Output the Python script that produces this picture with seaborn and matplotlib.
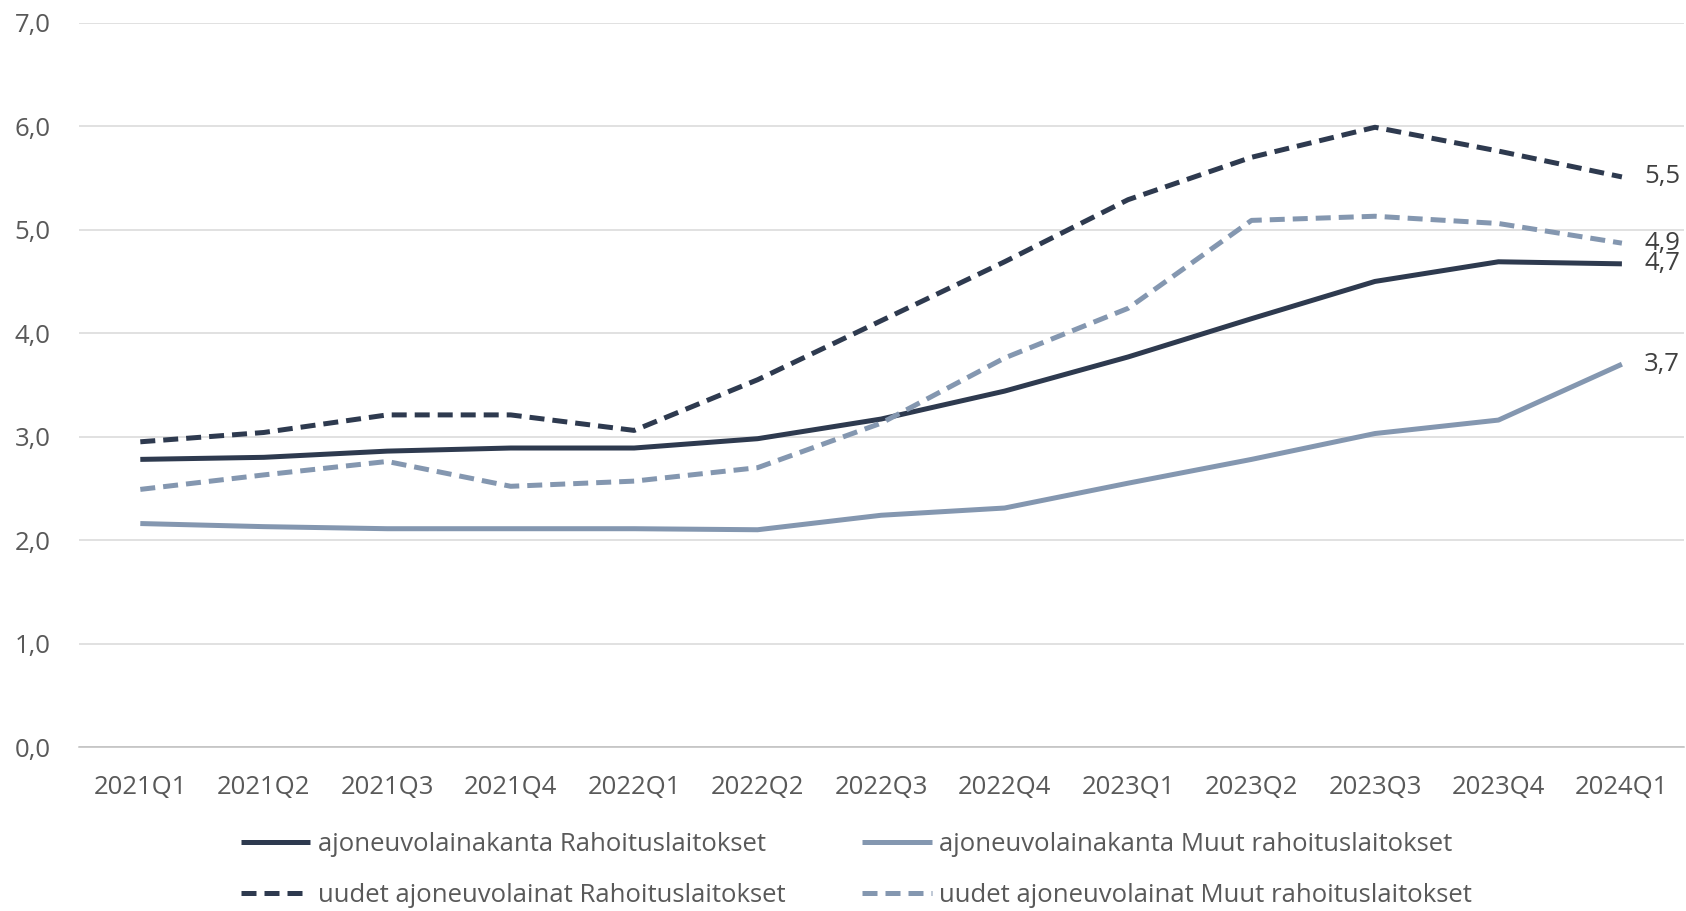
import pandas as pd
import matplotlib
matplotlib.use("Agg")
import matplotlib.pyplot as plt
from matplotlib.ticker import FixedLocator
import seaborn as sns

# Quarters on the x axis
quarters = ['2021Q1', '2021Q2', '2021Q3', '2021Q4', '2022Q1', '2022Q2', '2022Q3',
            '2022Q4', '2023Q1', '2023Q2', '2023Q3', '2023Q4', '2024Q1']

# Series values
kanta_rahoitus = [2.78, 2.80, 2.86, 2.89, 2.89, 2.98, 3.17, 3.44, 3.77, 4.14, 4.50, 4.69, 4.67]
kanta_muut = [2.16, 2.13, 2.11, 2.11, 2.11, 2.10, 2.24, 2.31, 2.55, 2.78, 3.03, 3.16, 3.70]
uudet_rahoitus = [2.95, 3.04, 3.21, 3.21, 3.06, 3.55, 4.12, 4.69, 5.29, 5.70, 5.99, 5.76, 5.51]
uudet_muut = [2.49, 2.63, 2.76, 2.52, 2.57, 2.70, 3.13, 3.76, 4.24, 5.09, 5.13, 5.06, 4.87]

names = ['ajoneuvolainakanta Rahoituslaitokset',
         'ajoneuvolainakanta Muut rahoituslaitokset',
         'uudet ajoneuvolainat Rahoituslaitokset',
         'uudet ajoneuvolainat Muut rahoituslaitokset']
series = [kanta_rahoitus, kanta_muut, uudet_rahoitus, uudet_muut]

dark = '#2e3a4f'
light = '#8497b0'
palette = {names[0]: dark, names[1]: light, names[2]: dark, names[3]: light}
dashes = {names[0]: '', names[1]: '', names[2]: (3, 1.6), names[3]: (3, 1.6)}

rows = []
for name, vals in zip(names, series):
    for i, v in enumerate(vals):
        rows.append({'idx': i, 'value': v, 'series': name})
df = pd.DataFrame(rows)

sns.set_theme(style='white')
plt.rcParams['font.family'] = ['Open Sans', 'DejaVu Sans']
text_color = '#595959'
fs = 18.5

fig = plt.figure(figsize=(16.86, 9.11), dpi=100)
ax = fig.add_axes([0.0466, 0.180, 0.952, 0.795])

sns.lineplot(data=df, x='idx', y='value', hue='series', style='series',
             palette=palette, dashes=dashes, hue_order=names, style_order=names,
             linewidth=3.6, legend=False, ax=ax)

for line in ax.get_lines():
    line.set_solid_capstyle('butt')
    line.set_dash_capstyle('butt')

# End labels
for vals in series:
    last = vals[-1]
    ax.annotate(f'{last:.1f}'.replace('.', ','), xy=(len(vals) - 1, last),
                xytext=(16, 0), textcoords='offset points', va='center', ha='left',
                fontsize=fs, color='#404040')

ax.set_xlim(-0.5, len(quarters) - 0.5)
ax.set_ylim(0, 7)
ax.set_yticks([0, 1, 2, 3, 4, 5, 6, 7])
ax.set_yticklabels([f'{v:.1f}'.replace('.', ',') for v in range(8)])
ax.set_xticks(range(len(quarters)))
ax.set_xticklabels(quarters)
ax.xaxis.set_minor_locator(FixedLocator([i - 0.5 for i in range(len(quarters) + 1)]))

ax.tick_params(axis='x', which='major', length=0, pad=20, labelsize=fs, labelcolor=text_color)
ax.tick_params(axis='x', which='minor', length=7, width=1.1, color='#bfbfbf', direction='out')
ax.tick_params(axis='y', length=0, pad=20, labelsize=fs, labelcolor=text_color)

ax.grid(axis='y', color='#d9d9d9', linewidth=1.1)
ax.set_axisbelow(True)
for side in ['left', 'right', 'top']:
    ax.spines[side].set_visible(False)
ax.spines['bottom'].set_color('#bfbfbf')
ax.spines['bottom'].set_linewidth(1.1)
ax.set_xlabel('')
ax.set_ylabel('')

lines = ax.get_lines()[:4]
order = [0, 2, 1, 3]
leg = fig.legend([lines[i] for i in order], [names[i] for i in order],
                 loc='lower center', bbox_to_anchor=(0.508, -0.022), ncol=2,
                 frameon=False, fontsize=fs, handlelength=2.7, handletextpad=0.3,
                 columnspacing=3.0, labelspacing=1.0)
for t in leg.get_texts():
    t.set_color(text_color)

fig.savefig('out.png', dpi=100)
